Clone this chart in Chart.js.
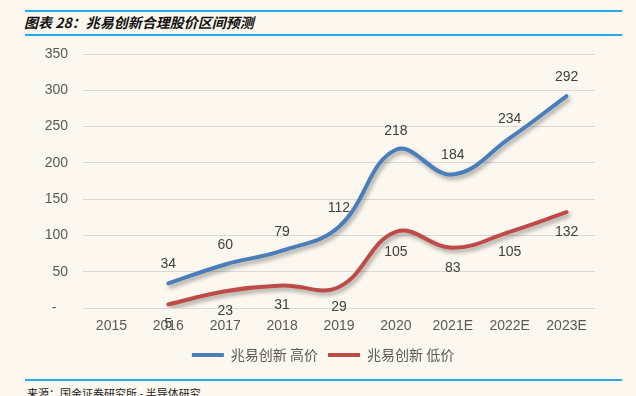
<!DOCTYPE html>
<html lang="zh">
<head>
  <meta charset="UTF-8" />
  <title>兆易创新合理股价区间预测</title>
  <script src="https://cdn.jsdelivr.net/npm/chart.js"></script>
  <style>
    html, body { margin: 0; padding: 0; }
    body { width: 636px; height: 396px; background: #FCF8EF; position: relative; overflow: hidden; }
    .rule { position: absolute; left: 25px; width: 597px; height: 2px; background: #29A9E6; }
    .title {
      position: absolute; left: 24px; top: 13px; font-size: 14px; font-weight: bold; font-style: italic;
      font-family: "Noto Sans CJK SC", sans-serif; color: #111; line-height: 18px;
    }
    .source {
      position: absolute; left: 27px; top: 386px; font-size: 11px; color: #222;
      font-family: "Noto Sans CJK SC", sans-serif; line-height: 14px;
    }
    #wrap { position: absolute; left: 0; top: 0; width: 636px; height: 372px; }
  </style>
</head>
<body>
  <div class="rule" style="top:10px"></div>
  <div class="title">图表 28：兆易创新合理股价区间预测</div>
  <div class="rule" style="top:34px"></div>
  <div id="wrap"><canvas id="chart"></canvas></div>
  <div class="rule" style="top:379px"></div>
  <div class="source">来源：国金证券研究所 - 半导体研究</div>

  <script>
    const years = ["2015", "2016", "2017", "2018", "2019", "2020", "2021E", "2022E", "2023E"];
    const highPrice = [null, 34, 60, 79, 112, 218, 184, 234, 292];
    const lowPrice = [null, 5, 23, 31, 29, 105, 83, 105, 132];
    const seriesNames = ["兆易创新 高价", "兆易创新 低价"];

    const shadowPlugin = {
      id: "shadow",
      beforeDatasetDraw(chart) {
        const ctx = chart.ctx;
        ctx.save();
        ctx.shadowColor = "rgba(0,0,0,0.35)";
        ctx.shadowBlur = 4;
        ctx.shadowOffsetX = 2;
        ctx.shadowOffsetY = 3;
      },
      afterDatasetDraw(chart) {
        chart.ctx.restore();
      }
    };

    // value labels: blue above the point, red below
    const valueLabels = {
      id: "valueLabels",
      afterDatasetsDraw(chart) {
        const ctx = chart.ctx;
        ctx.save();
        ctx.font = "14px 'Liberation Sans', Arial, sans-serif";
        ctx.fillStyle = "#404040";
        ctx.textAlign = "center";
        ctx.textBaseline = "middle";
        chart.data.datasets.forEach((ds, i) => {
          const shift = i === 0 ? -19 : 20;
          chart.getDatasetMeta(i).data.forEach((pt, j) => {
            if (ds.data[j] == null) return;
            ctx.fillText(String(ds.data[j]), pt.x, pt.y + shift);
          });
        });
        ctx.restore();
      }
    };

    new Chart(document.getElementById("chart"), {
      type: "line",
      data: {
        labels: years,
        datasets: [
          {
            label: seriesNames[0],
            data: highPrice,
            borderColor: "#4A7EBB",
            backgroundColor: "#4A7EBB",
            borderWidth: 4,
            tension: 0.4,
            pointRadius: 0,
            borderCapStyle: "round"
          },
          {
            label: seriesNames[1],
            data: lowPrice,
            borderColor: "#BE4B48",
            backgroundColor: "#BE4B48",
            borderWidth: 4,
            tension: 0.4,
            pointRadius: 0,
            borderCapStyle: "round"
          }
        ]
      },
      options: {
        responsive: true,
        maintainAspectRatio: false,
        animation: false,
        layout: { padding: { top: 54, right: 0, left: 10, bottom: 0 } },
        plugins: {
          tooltip: { enabled: false },
          legend: {
            position: "bottom",
            labels: {
              boxWidth: 32,
              boxHeight: 4,
              padding: 10,
              color: "#595959",
              font: { size: 14, family: "'Noto Sans CJK SC', sans-serif" },
              generateLabels(chart) {
                return chart.data.datasets.map((ds, i) => ({
                  text: ds.label,
                  fillStyle: ds.borderColor,
                  strokeStyle: ds.borderColor,
                  lineWidth: 0,
                  datasetIndex: i,
                  fontColor: "#595959"
                }));
              }
            }
          }
        },
        scales: {
          x: {
            offset: true,
            grid: { display: false, drawTicks: false },
            border: { display: false },
            ticks: { color: "#595959", padding: 10, font: { size: 14, family: "'Liberation Sans', Arial, sans-serif" } },
            afterFit(scale) { scale.height = 30; }
          },
          y: {
            min: 0,
            max: 350,
            grid: { color: "#D9D9D9", drawTicks: false },
            border: { display: false },
            ticks: {
              stepSize: 50,
              padding: 15,
              color: "#595959",
              font: { size: 14, family: "'Liberation Sans', Arial, sans-serif" },
              callback: v => (v === 0 ? "-   " : v)
            },
            afterFit(scale) { scale.width = 73; }
          },
          // empty right-hand spacer so the plot ends where the reference does
          spacer: {
            type: "linear",
            position: "right",
            grid: { display: false, drawTicks: false },
            border: { display: false },
            ticks: { display: false },
            afterFit(scale) { scale.width = 41; }
          }
        }
      },
      plugins: [shadowPlugin, valueLabels]
    });
  </script>
</body>
</html>
